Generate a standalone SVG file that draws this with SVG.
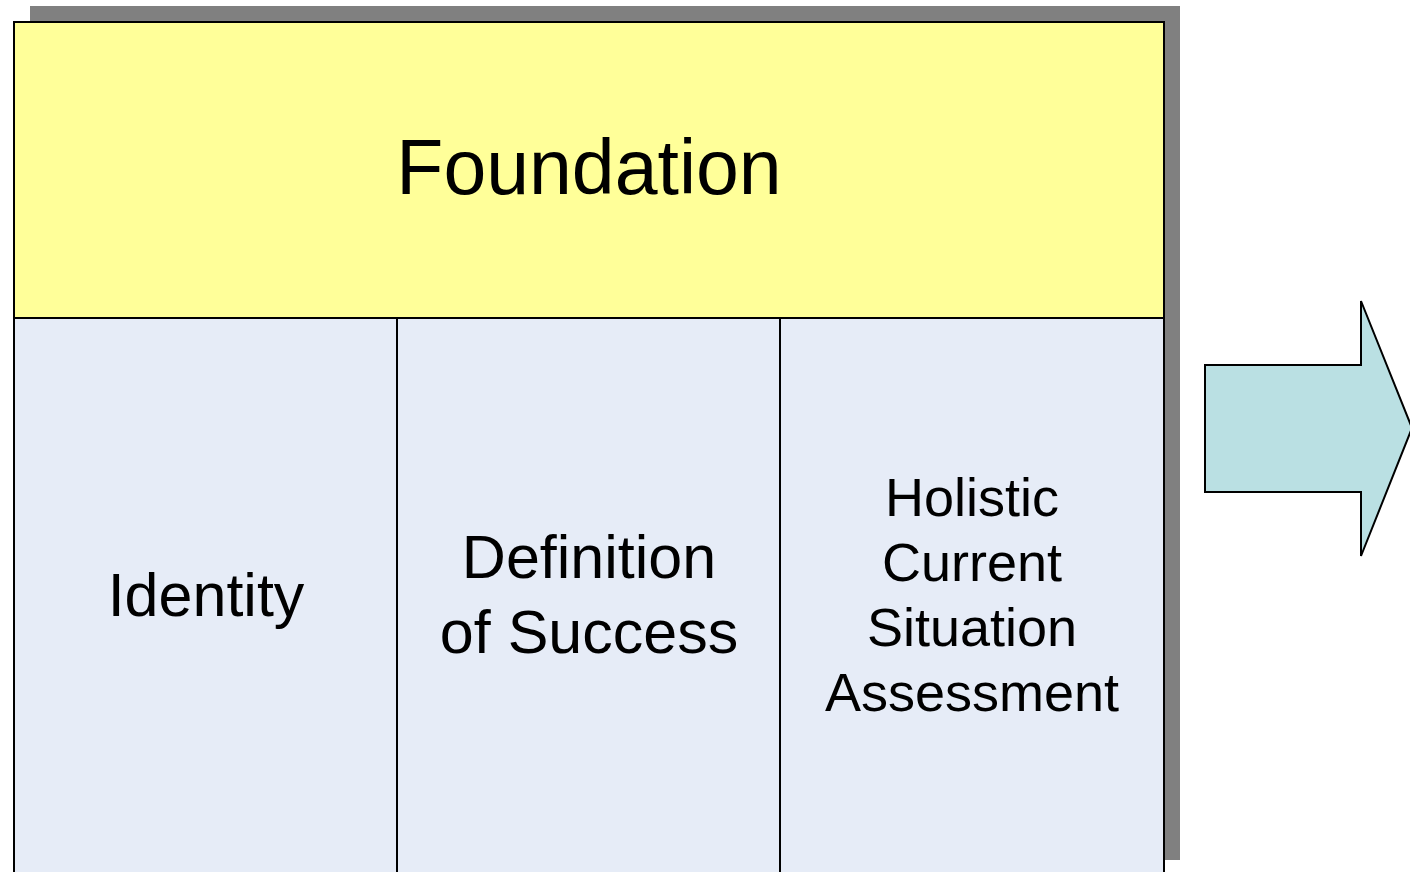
<svg xmlns="http://www.w3.org/2000/svg" width="1410" height="872" viewBox="0 0 1410 872">
<style>
.box{stroke:#000;stroke-width:2}
.t{font-family:"Liberation Sans",Arial,sans-serif;fill:#000;text-anchor:middle}
</style>
<rect x="0" y="0" width="1410" height="872" fill="#fff"/>
<g id="shadow"><rect x="30" y="6" width="1150" height="854" fill="#808080"/></g>
<g id="foundation">
<rect class="box" x="14" y="22" width="1150" height="296" fill="#FFFF99"/>
<text class="t" x="589" y="194" font-size="77">Foundation</text>
</g>
<g id="identity">
<rect class="box" x="14" y="318" width="383" height="570" fill="#E6ECF7"/>
<text class="t" x="206" y="616" font-size="61">Identity</text>
</g>
<g id="definition">
<rect class="box" x="397" y="318" width="383" height="570" fill="#E6ECF7"/>
<text class="t" x="589" y="578" font-size="61">Definition</text>
<text class="t" x="589" y="653" font-size="61">of Success</text>
</g>
<g id="holistic">
<rect class="box" x="780" y="318" width="384" height="570" fill="#E6ECF7"/>
<text class="t" x="972" y="516" font-size="54">Holistic</text>
<text class="t" x="972" y="581" font-size="54">Current</text>
<text class="t" x="972" y="646" font-size="54">Situation</text>
<text class="t" x="972" y="711" font-size="54">Assessment</text>
</g>
<g id="arrow">
<polygon points="1205,365 1361,365 1361,301 1412,428 1361,556 1361,492 1205,492" fill="#BAE0E3" stroke="#000" stroke-width="2"/>
</g>
<g id="connectors"></g>
</svg>
